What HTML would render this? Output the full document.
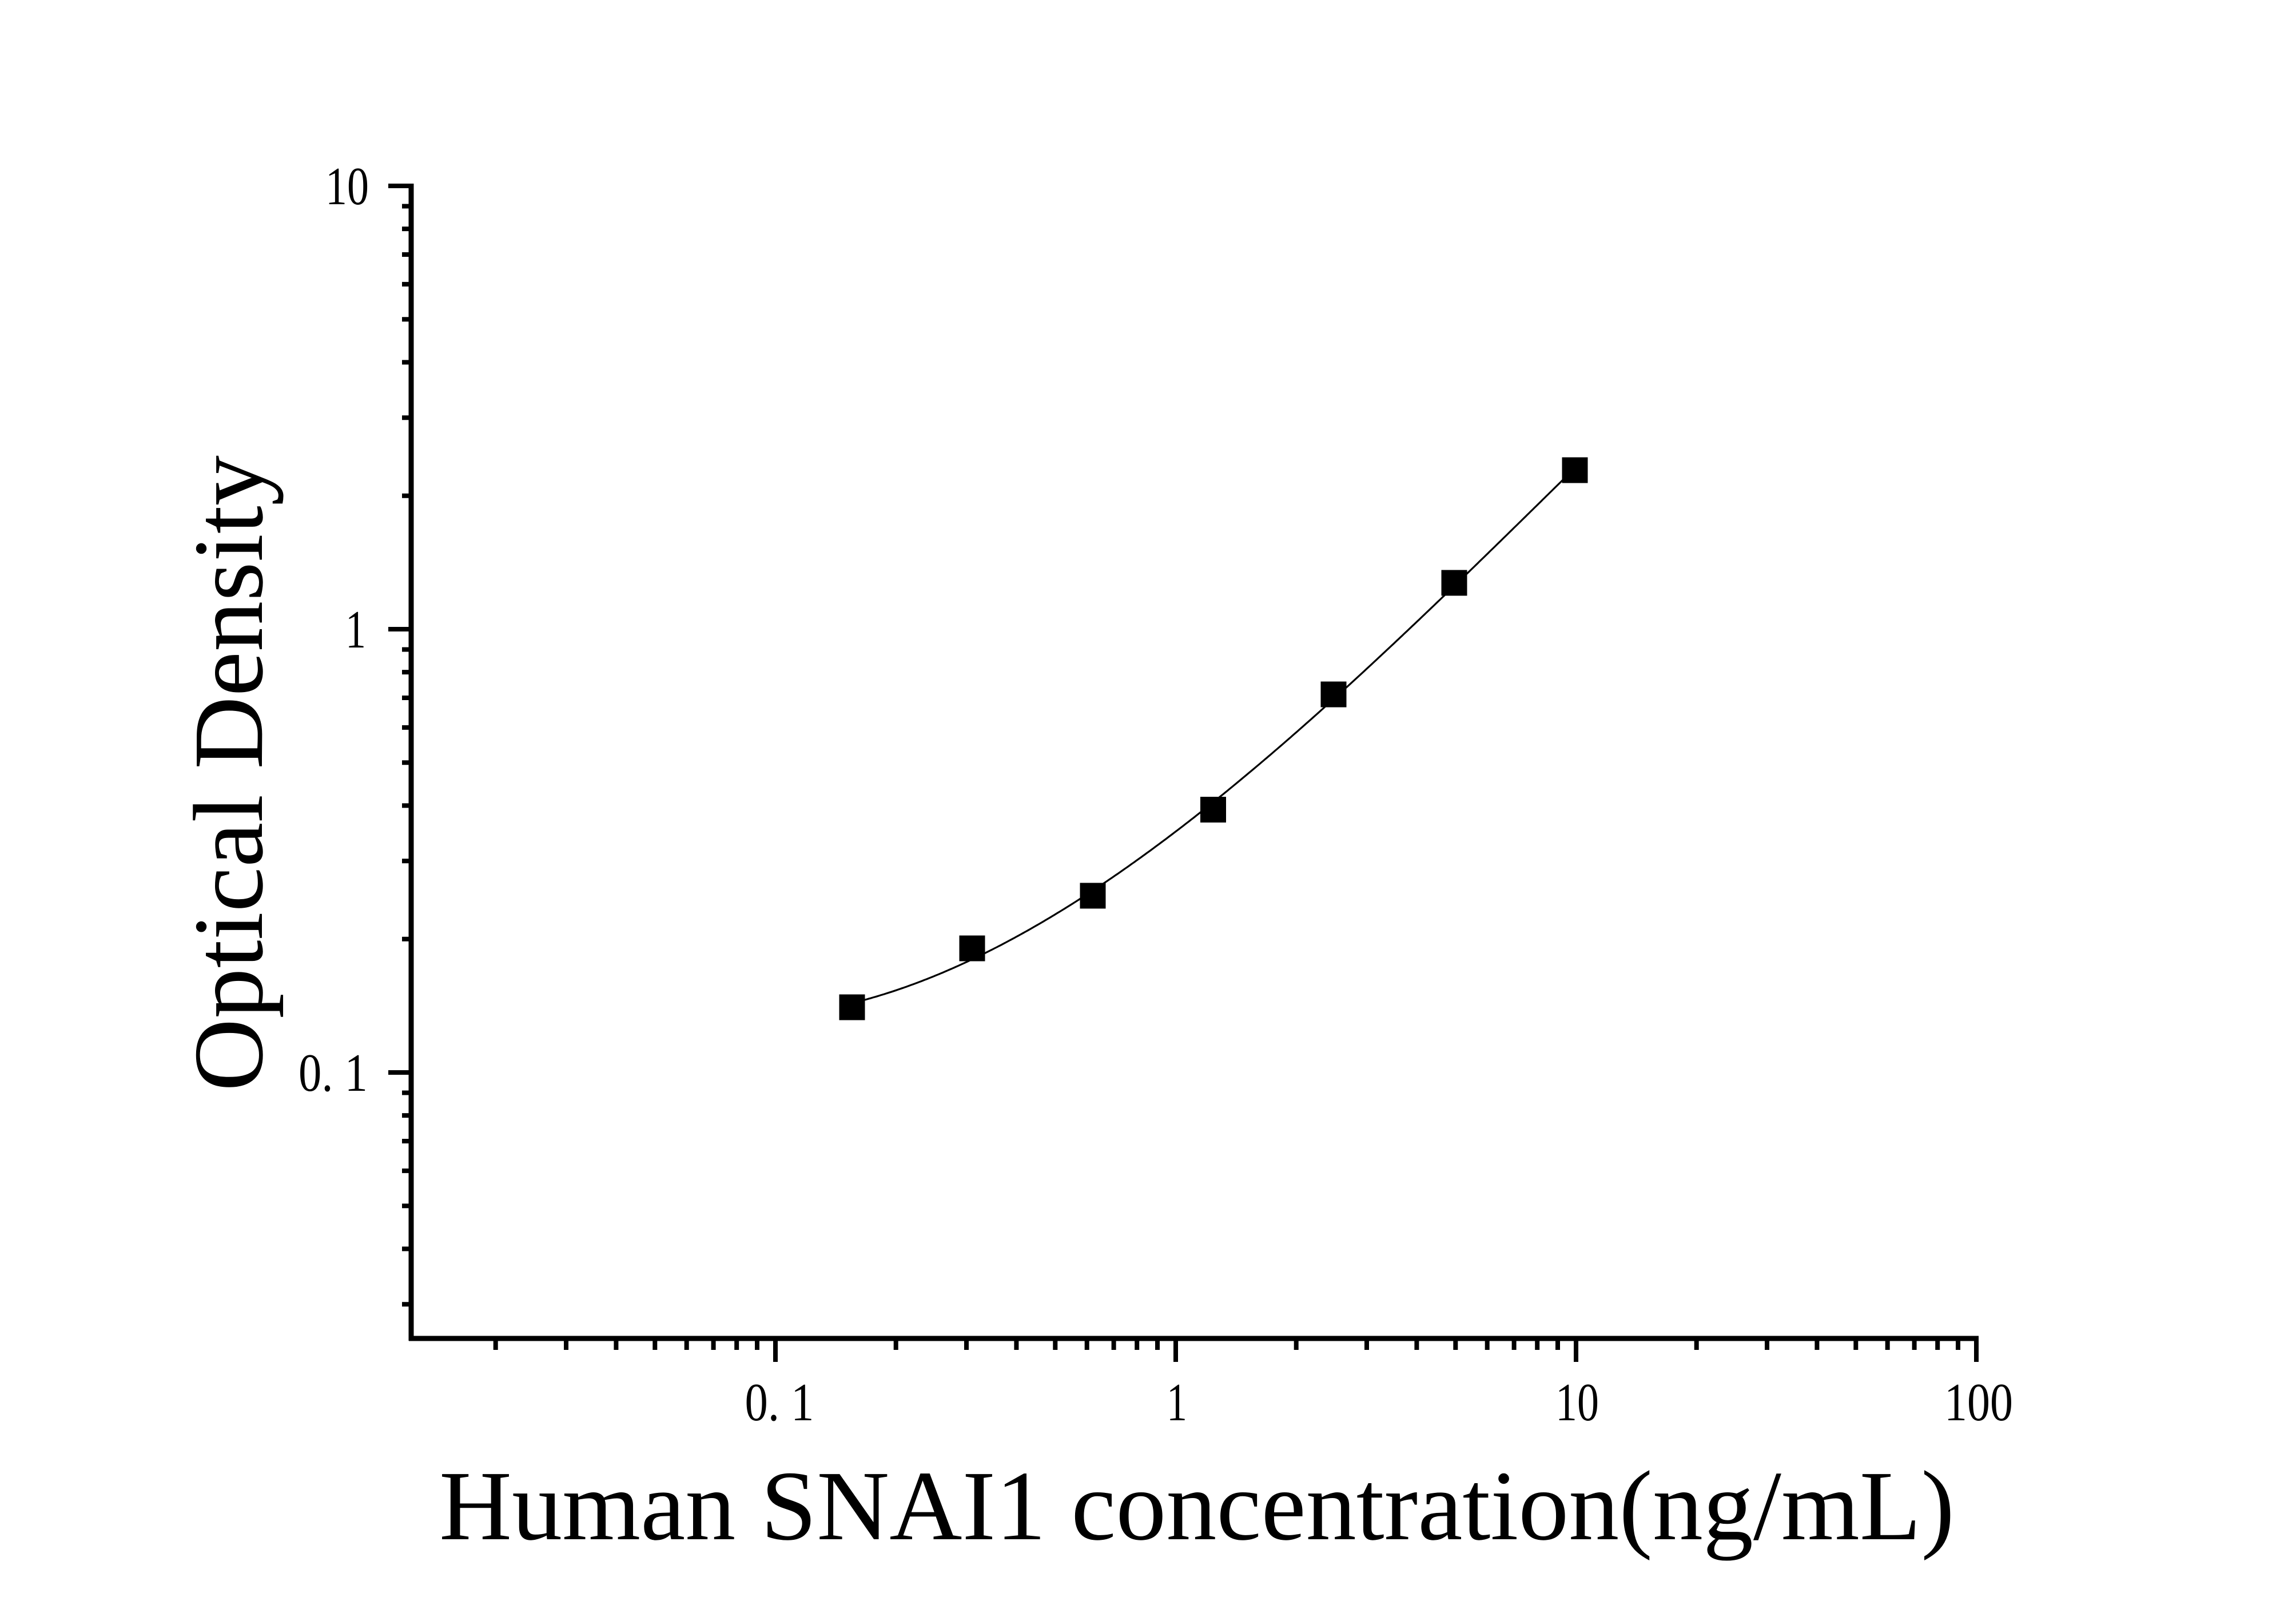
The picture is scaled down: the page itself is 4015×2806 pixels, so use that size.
<!DOCTYPE html>
<html><head><meta charset="utf-8"><style>
html,body{margin:0;padding:0;background:#fff;}
svg{display:block;}
text{font-family:"Liberation Serif",serif;fill:#000;}
</style></head><body>
<svg id="s" width="4015" height="2806" viewBox="0 0 4015 2806" xmlns="http://www.w3.org/2000/svg">
<rect width="4015" height="2806" fill="#fff"/>
<g id="ticks" stroke="#000" stroke-width="8" fill="none"></g>
<path d="M719 321 V2344 M715 2340 H3460" stroke="#000" stroke-width="9" fill="none"/>
<path id="curve" stroke="#000" stroke-width="3.2" fill="none"/>
<g id="pts" fill="#000"></g>
<g font-size="94">
<text x="645" y="357" text-anchor="end" textLength="76" lengthAdjust="spacingAndGlyphs">10</text>
<text x="640" y="1132" text-anchor="end" textLength="36" lengthAdjust="spacingAndGlyphs">1</text>
<text x="643" y="1907" text-anchor="end" textLength="121" lengthAdjust="spacingAndGlyphs">0. 1</text>
<text x="1363" y="2483" text-anchor="middle" textLength="121" lengthAdjust="spacingAndGlyphs">0. 1</text>
<text x="2058" y="2483" text-anchor="middle" textLength="36" lengthAdjust="spacingAndGlyphs">1</text>
<text x="2758" y="2483" text-anchor="middle" textLength="76" lengthAdjust="spacingAndGlyphs">10</text>
<text x="3460" y="2483" text-anchor="middle" textLength="120" lengthAdjust="spacingAndGlyphs">100</text>
</g>
<text x="768" y="2691" font-size="174" textLength="2650" lengthAdjust="spacingAndGlyphs">Human SNAI1 concentration(ng/mL)</text>
<text transform="translate(458,1908) rotate(-90)" x="0" y="0" font-size="174" textLength="1112" lengthAdjust="spacingAndGlyphs">Optical Density</text>
</svg>
<script>
(function(){
var X=function(v){return 2056+700*Math.log10(v);};
var Y=function(v){return 1100-775*Math.log10(v);};
var d="";
[10,1,0.1].forEach(function(v){var y=Y(v);d+="M679 "+y.toFixed(1)+" H719 ";});
var ym=[];
for(var i=2;i<=9;i++){ym.push(i);ym.push(i/10);}
for(var i=3;i<=9;i++){ym.push(i/100);}
ym.forEach(function(v){var y=Y(v);d+="M703 "+y.toFixed(1)+" H719 ";});
[0.1,1,10,100].forEach(function(v){var x=X(v);d+="M"+x.toFixed(1)+" 2340 V2381 ";});
[0.01,0.1,1,10].forEach(function(b){for(var i=2;i<=9;i++){var v=b*i;if(v>0.0125){var x=X(v);d+="M"+x.toFixed(1)+" 2340 V2360 ";}}});
var p=document.createElementNS("http://www.w3.org/2000/svg","path");
p.setAttribute("d",d);document.getElementById("ticks").appendChild(p);
var P=[[1490,1761],[1700,1658],[1911,1566],[2121.5,1415.5],[2332,1214],[2543,1019],[2754,822]];
var g=document.getElementById("pts");
P.forEach(function(q){var r=document.createElementNS("http://www.w3.org/2000/svg","rect");
r.setAttribute("x",q[0]-22.5);r.setAttribute("y",q[1]-22.5);r.setAttribute("width",45);r.setAttribute("height",45);g.appendChild(r);});
// cubic least-squares fit in pixel space (normalized)
var n=4,A=[],B=[];
for(var i=0;i<n;i++){A.push([0,0,0,0]);B.push(0);}
var xm=2122,xs=632;
P.forEach(function(q){var t=(q[0]-xm)/xs;var pw=[1,t,t*t,t*t*t];
for(var i=0;i<n;i++){B[i]+=pw[i]*q[1];for(var j=0;j<n;j++)A[i][j]+=pw[i]*pw[j];}});
for(var i=0;i<n;i++){var m=i;for(var k=i+1;k<n;k++)if(Math.abs(A[k][i])>Math.abs(A[m][i]))m=k;
var tA=A[i];A[i]=A[m];A[m]=tA;var tB=B[i];B[i]=B[m];B[m]=tB;
for(var k=i+1;k<n;k++){var f=A[k][i]/A[i][i];for(var j=i;j<n;j++)A[k][j]-=f*A[i][j];B[k]-=f*B[i];}}
var c=[0,0,0,0];
for(var i=n-1;i>=0;i--){var s=B[i];for(var j=i+1;j<n;j++)s-=A[i][j]*c[j];c[i]=s/A[i][i];}
var path="";
for(var x=1495;x<=2754;x+=3){var t=(x-xm)/xs;var y=c[0]+c[1]*t+c[2]*t*t+c[3]*t*t*t;
path+=(path?" L":"M")+x+" "+y.toFixed(1);}
document.getElementById("curve").setAttribute("d",path);
})();
</script>
</body></html>
